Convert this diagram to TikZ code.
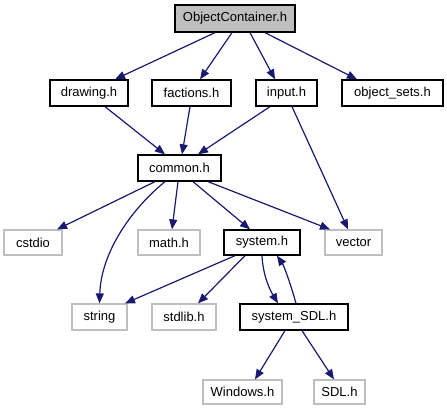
\documentclass[tikz,border=0pt]{standalone}
\usepackage{fontspec}
\setmainfont{Liberation Sans}
\usetikzlibrary{arrows.meta}
\definecolor{edgec}{HTML}{191970}
\definecolor{leafc}{HTML}{BFBFBF}
\tikzset{
  base/.style={minimum height=26pt, inner sep=0pt, font=\fontsize{13}{15}\selectfont, line width=1.3pt},
  mainbox/.style={base, draw=black},
  rootbox/.style={base, draw=black, fill=leafc},
  leafbox/.style={base, draw=leafc, fill=white, line width=1.2pt},
  edge/.style={draw=edgec, line width=1.2pt, -{Triangle[length=10pt,width=8pt]}},
}
\begin{document}
\begin{tikzpicture}[x=1pt,y=-1pt]
\useasboundingbox (0,0) rectangle (447,411);
\node[rootbox, minimum width=120pt, minimum height=27pt] (oc) at (235,18.5) {ObjectContainer.h};
\node[mainbox, minimum width=78pt] (drawing) at (89,93) {drawing.h};
\node[mainbox, minimum width=79pt] (factions) at (191.5,93) {factions.h};
\node[mainbox, minimum width=61pt] (input) at (286.5,93) {input.h};
\node[mainbox, minimum width=101pt] (objsets) at (392.5,93) {object\_sets.h};
\node[mainbox, minimum width=83pt] (common) at (179.5,168) {common.h};
\node[leafbox, minimum width=58pt, minimum height=25pt] (cstdio) at (33,242.5) {cstdio};
\node[leafbox, minimum width=62pt, minimum height=25pt] (math) at (169,242.5) {math.h};
\node[mainbox, minimum width=76pt, minimum height=25pt] (system) at (262,242.5) {system.h};
\node[leafbox, minimum width=57pt, minimum height=25pt] (vector) at (353.5,242.5) {vector};
\node[leafbox, minimum width=55pt] (string) at (99.5,317) {string};
\node[leafbox, minimum width=64pt] (stdlib) at (184,317) {stdlib.h};
\node[mainbox, minimum width=108pt] (sdlsys) at (294,317) {system\_SDL.h};
\node[leafbox, minimum width=79pt, minimum height=24pt] (windows) at (242.5,392) {Windows.h};
\node[leafbox, minimum width=51pt, minimum height=24pt] (sdl) at (339.5,392) {SDL.h};

\draw[edge] ([xshift=-20pt]oc.south) -- ([xshift=26pt]drawing.north);
\draw[edge] ([xshift=-3pt]oc.south) -- ([xshift=8.5pt]factions.north);
\draw[edge] ([xshift=15pt]oc.south) -- ([xshift=-11.5pt]input.north);
\draw[edge] ([xshift=30pt]oc.south) -- ([xshift=-35.5pt]objsets.north);
\draw[edge] ([xshift=16pt]drawing.south) -- ([xshift=-14.5pt]common.north);
\draw[edge] ([xshift=-1.5pt]factions.south) -- ([xshift=2.5pt]common.north);
\draw[edge] ([xshift=-16.5pt]input.south) -- ([xshift=18.5pt]common.north);
\draw[edge] ([xshift=5.5pt]input.south) -- ([xshift=-5.5pt]vector.north);
\draw[edge] ([xshift=-24.5pt]common.south) -- ([xshift=24pt]cstdio.north);
\draw[edge] ([xshift=-14.5pt]common.south) .. controls (128,212) and (101,255) .. (string.north);
\draw[edge] ([xshift=-1.5pt]common.south) -- ([xshift=3pt]math.north);
\draw[edge] ([xshift=13.5pt]common.south) -- ([xshift=-12pt]system.north);
\draw[edge] ([xshift=28.5pt]common.south) -- ([xshift=-23.5pt]vector.north);
\draw[edge] ([xshift=-27pt]system.south) -- ([xshift=25.5pt]string.north);
\draw[edge] ([xshift=-17pt]system.south) -- ([xshift=14pt]stdlib.north);
\draw[edge] (system.south) .. controls (263,276) and (270,290) .. ([xshift=-16pt]sdlsys.north);
\draw[edge] ([xshift=2pt]sdlsys.north) .. controls (290,282) and (284,266) .. ([xshift=15pt]system.south);
\draw[edge] ([xshift=-9pt]sdlsys.south) -- ([xshift=12.5pt]windows.north);
\draw[edge] ([xshift=8pt]sdlsys.south) -- ([xshift=-5.5pt]sdl.north);
\end{tikzpicture}
\end{document}
